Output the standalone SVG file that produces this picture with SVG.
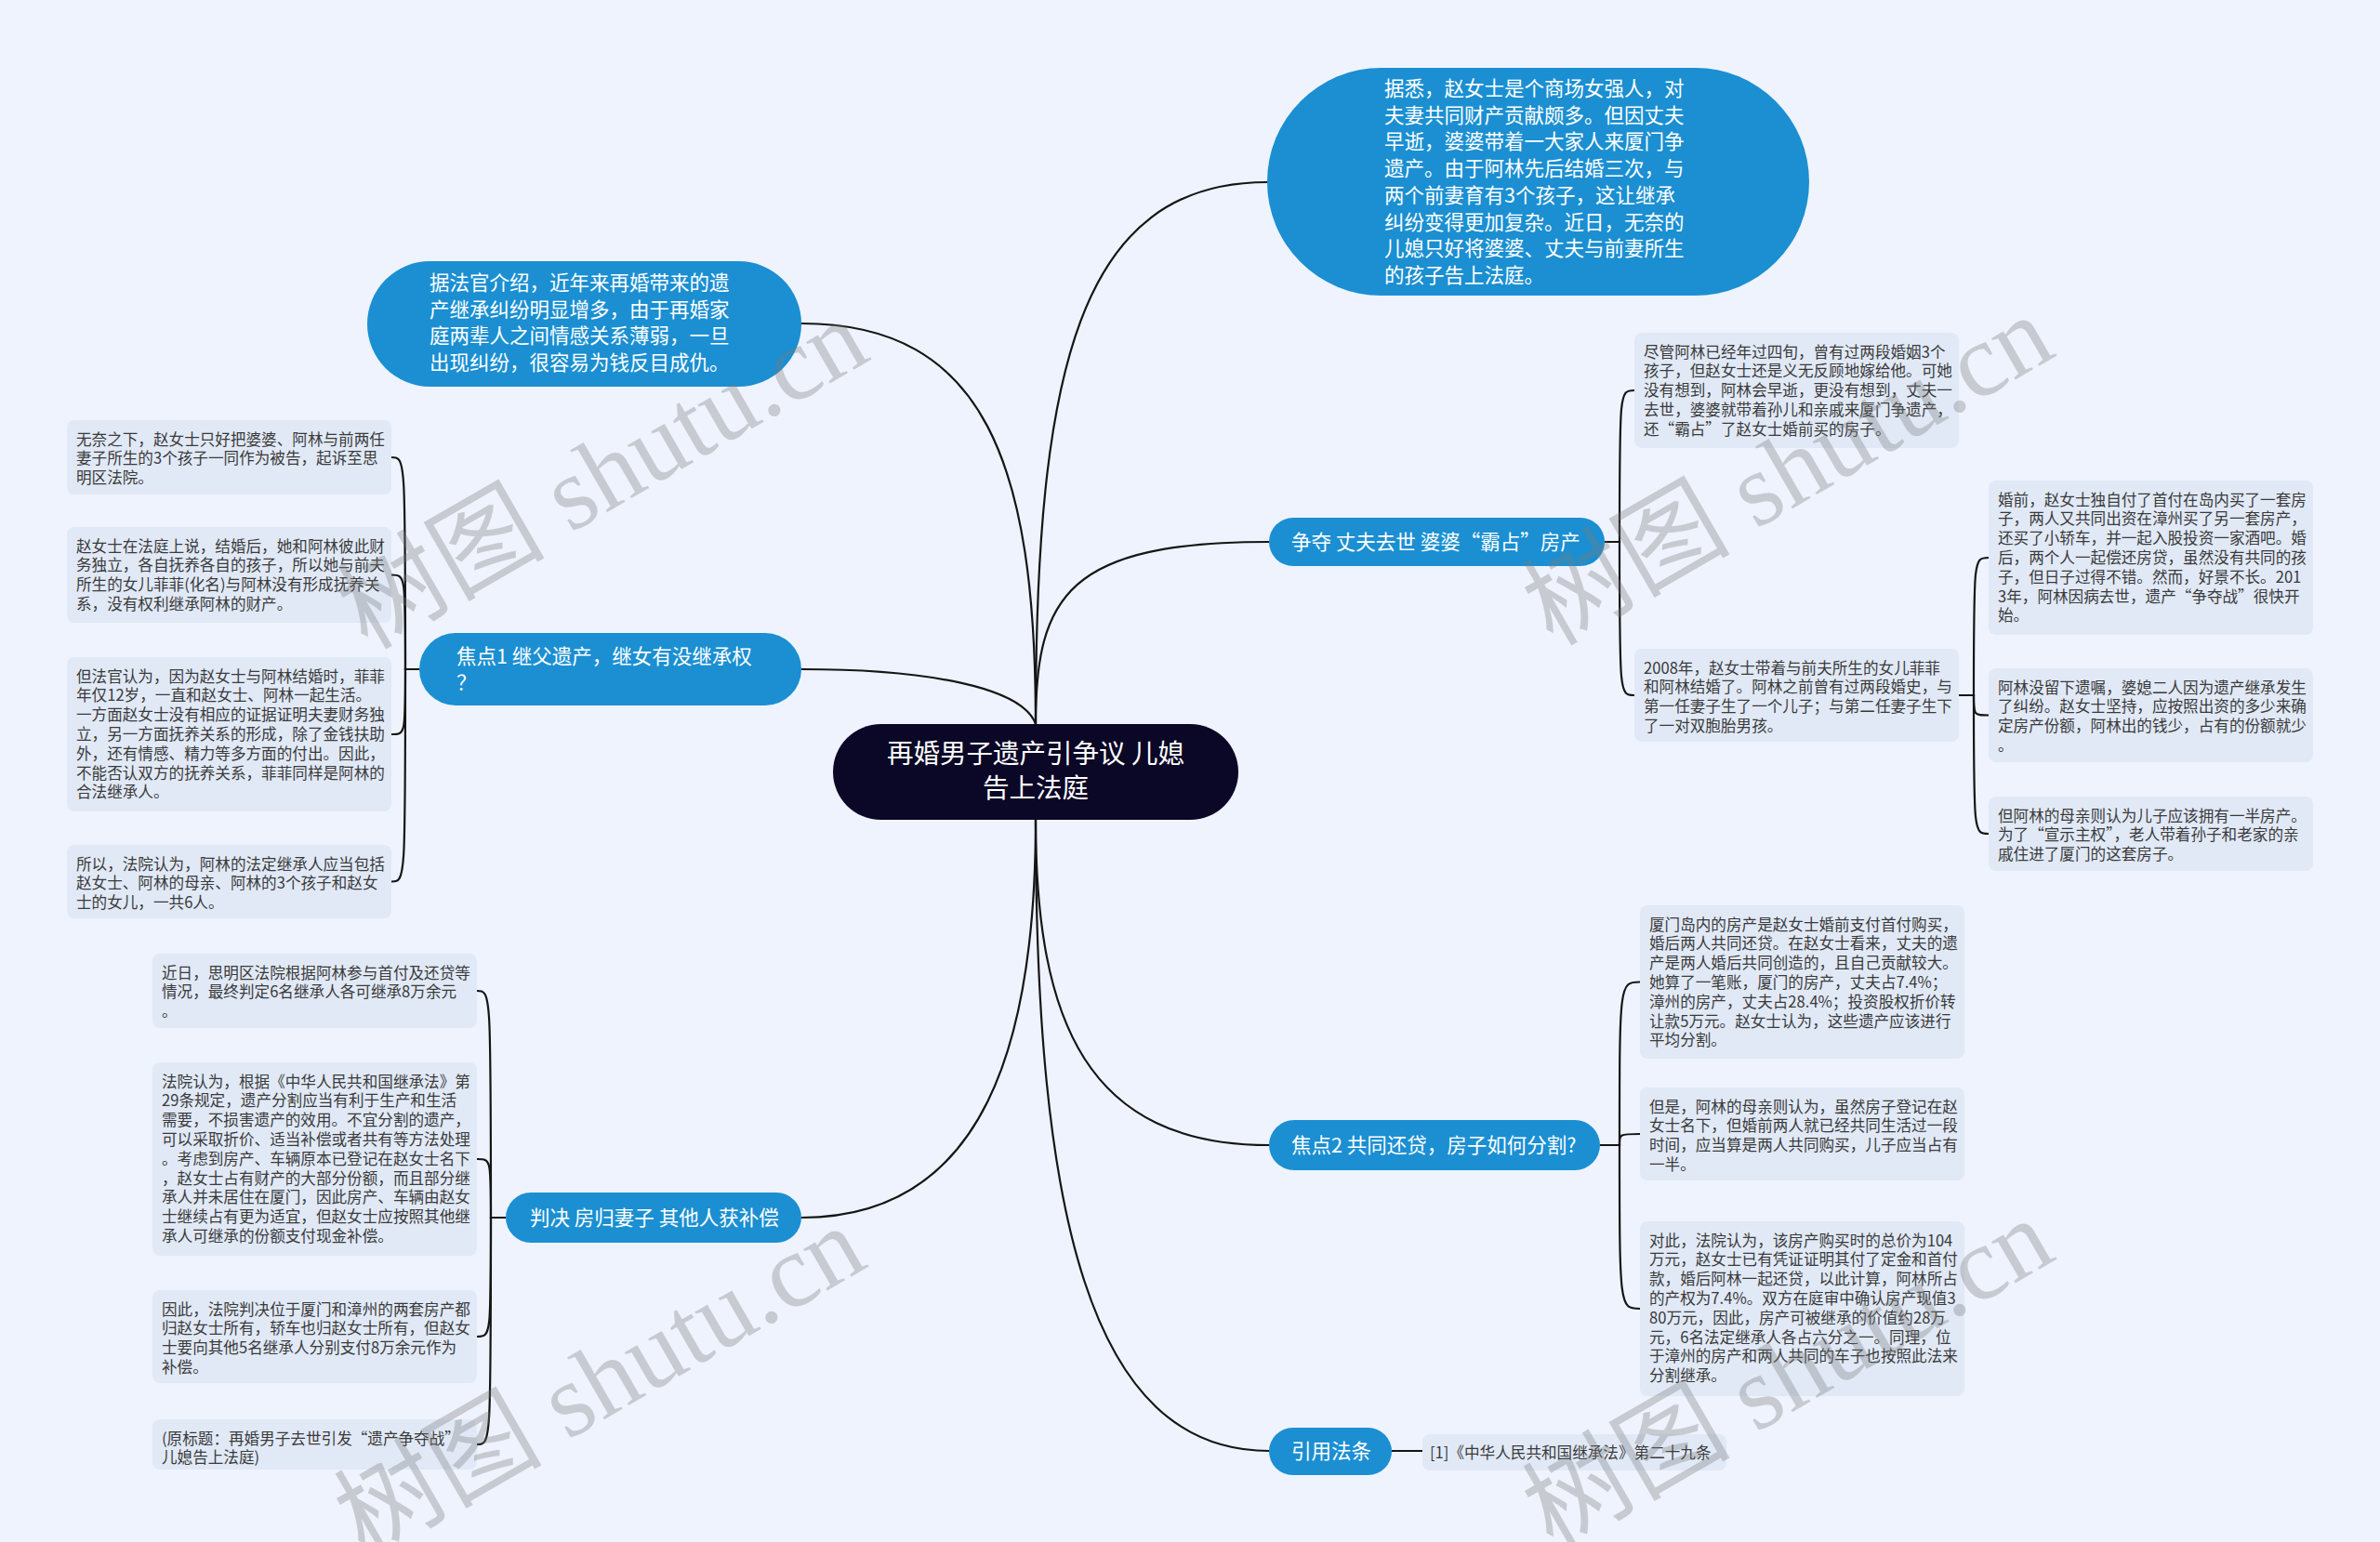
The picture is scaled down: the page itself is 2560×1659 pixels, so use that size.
<svg xmlns="http://www.w3.org/2000/svg" width="2560" height="1659" viewBox="0 0 2560 1659">
<style>
.bg{fill:#eef3fd}
.blue{fill:#1b8fd2}
.dark{fill:#0b0727}
.leaf{fill:#e1e9f7}
.wt{font-family:"Noto Sans CJK SC","Noto Sans",sans-serif;fill:#ffffff;font-size:21.5px}
.ct{font-family:"Noto Sans CJK SC","Noto Sans",sans-serif;fill:#ffffff;font-size:28.5px}
.lt{font-family:"Noto Sans CJK SC","Noto Sans",sans-serif;fill:#3a3a3a;font-size:16.6px}
.conn path{fill:none;stroke:#151515;stroke-width:2.2}
.wm{font-family:"Liberation Serif","Noto Sans CJK SC",serif;font-size:112px;fill:#7a7a7a;opacity:0.33}
</style>
<rect class="bg" x="0" y="0" width="2560" height="1659"/>

<g id="connectors" class="conn">
<path d="M1114,779 C1114,400 1160,196 1363,196"/>
<path d="M1114,779 C1114,640 1150,583 1365,583"/>
<path d="M1114,779 C1114,500 1060,348 862,348"/>
<path d="M1114,779 C1100,740 1000,720 862,720"/>
<path d="M1114,882 C1114,1100 1170,1232 1365,1232"/>
<path d="M1114,882 C1114,1300 1170,1561 1365,1561"/>
<path d="M1114,882 C1114,1120 1060,1310 862,1310"/>
<path d="M1726,583 H1742 C1742,420 1742,420 1758,420"/>
<path d="M1726,583 H1742 C1742,748 1742,748 1758,748"/>
<path d="M2107,748 H2123 C2123,600 2123,600 2139,600"/>
<path d="M2107,748 H2123 C2123,769.5 2123,769.5 2139,769.5"/>
<path d="M2107,748 H2123 C2123,897 2123,897 2139,897"/>
<path d="M1721,1232 H1742 C1742,1056.5 1742,1056.5 1764,1056.5"/>
<path d="M1721,1232 H1742 C1742,1220 1742,1220 1764,1220"/>
<path d="M1721,1232 H1742 C1742,1408 1742,1408 1764,1408"/>
<path d="M1497,1561 H1530"/>
<path d="M451,720 H436 C436,492 436,492 421,492"/>
<path d="M451,720 H436 C436,618.5 436,618.5 421,618.5"/>
<path d="M451,720 H436 C436,790 436,790 421,790"/>
<path d="M451,720 H436 C436,948.5 436,948.5 421,948.5"/>
<path d="M544,1310 H528 C528,1066 528,1066 513,1066"/>
<path d="M544,1310 H528 C528,1247 528,1247 513,1247"/>
<path d="M544,1310 H528 C528,1438 528,1438 513,1438"/>
<path d="M544,1310 H528 C528,1554 528,1554 513,1554"/>
</g>

<g id="center">
<rect class="dark" x="896" y="779" width="436" height="103" rx="51.5"/>
<text class="ct" text-anchor="middle"><tspan x="1114" y="821">再婚男子遗产引争议 儿媳</tspan><tspan x="1114" y="858">告上法庭</tspan></text>
</g>

<g id="bubble-right">
<rect class="blue" x="1363" y="73" width="583" height="245" rx="122.5"/>
<text class="wt"><tspan x="1489" y="103">据悉，赵女士是个商场女强人，对</tspan><tspan x="1489" y="131.7">夫妻共同财产贡献颇多。但因丈夫</tspan><tspan x="1489" y="160.4">早逝，婆婆带着一大家人来厦门争</tspan><tspan x="1489" y="189.1">遗产。由于阿林先后结婚三次，与</tspan><tspan x="1489" y="217.8">两个前妻育有3个孩子，这让继承</tspan><tspan x="1489" y="246.5">纠纷变得更加复杂。近日，无奈的</tspan><tspan x="1489" y="275.2">儿媳只好将婆婆、丈夫与前妻所生</tspan><tspan x="1489" y="303.9">的孩子告上法庭。</tspan></text>
</g>

<g id="bubble-left">
<rect class="blue" x="395" y="281" width="467" height="135" rx="67.5"/>
<text class="wt"><tspan x="462" y="312">据法官介绍，近年来再婚带来的遗</tspan><tspan x="462" y="340.7">产继承纠纷明显增多，由于再婚家</tspan><tspan x="462" y="369.4">庭两辈人之间情感关系薄弱，一旦</tspan><tspan x="462" y="398.1">出现纠纷，很容易为钱反目成仇。</tspan></text>
</g>

<g id="n-zhengduo">
<rect class="blue" x="1365" y="557" width="361" height="52" rx="26"/>
<text class="wt" x="1389" y="591">争夺 丈夫去世 婆婆“霸占”房产</text>
</g>

<g id="n-jiaodian1">
<rect class="blue" x="451" y="681" width="411" height="78" rx="39"/>
<text class="wt"><tspan x="491" y="714">焦点1 继父遗产，继女有没继承权</tspan><tspan x="491" y="742">？</tspan></text>
</g>

<g id="n-jiaodian2">
<rect class="blue" x="1365" y="1205" width="356" height="54" rx="27"/>
<text class="wt" x="1389" y="1240">焦点2 共同还贷，房子如何分割?</text>
</g>

<g id="n-panjue">
<rect class="blue" x="544" y="1283" width="318" height="54" rx="27"/>
<text class="wt" x="570" y="1318">判决 房归妻子 其他人获补偿</text>
</g>

<g id="n-fatiao">
<rect class="blue" x="1365" y="1536" width="132" height="51" rx="25.5"/>
<text class="wt" x="1389" y="1569">引用法条</text>
</g>

<g id="leaf-L1">
<rect class="leaf" x="72" y="452" width="349" height="80" rx="8"/>
<text class="lt"><tspan x="82" y="478.5">无奈之下，赵女士只好把婆婆、阿林与前两任</tspan><tspan x="82" y="499.3">妻子所生的3个孩子一同作为被告，起诉至思</tspan><tspan x="82" y="520.1">明区法院。</tspan></text>
</g>
<g id="leaf-L2">
<rect class="leaf" x="72" y="567" width="349" height="103" rx="8"/>
<text class="lt"><tspan x="82" y="593.5">赵女士在法庭上说，结婚后，她和阿林彼此财</tspan><tspan x="82" y="614.3">务独立，各自抚养各自的孩子，所以她与前夫</tspan><tspan x="82" y="635.1">所生的女儿菲菲(化名)与阿林没有形成抚养关</tspan><tspan x="82" y="655.9">系，没有权利继承阿林的财产。</tspan></text>
</g>
<g id="leaf-L3">
<rect class="leaf" x="72" y="707" width="349" height="166" rx="8"/>
<text class="lt"><tspan x="82" y="733.5">但法官认为，因为赵女士与阿林结婚时，菲菲</tspan><tspan x="82" y="754.3">年仅12岁，一直和赵女士、阿林一起生活。</tspan><tspan x="82" y="775.1">一方面赵女士没有相应的证据证明夫妻财务独</tspan><tspan x="82" y="795.9">立，另一方面抚养关系的形成，除了金钱扶助</tspan><tspan x="82" y="816.7">外，还有情感、精力等多方面的付出。因此，</tspan><tspan x="82" y="837.5">不能否认双方的抚养关系，菲菲同样是阿林的</tspan><tspan x="82" y="858.3">合法继承人。</tspan></text>
</g>
<g id="leaf-L4">
<rect class="leaf" x="72" y="909" width="349" height="79" rx="8"/>
<text class="lt"><tspan x="82" y="935.5">所以，法院认为，阿林的法定继承人应当包括</tspan><tspan x="82" y="956.3">赵女士、阿林的母亲、阿林的3个孩子和赵女</tspan><tspan x="82" y="977.1">士的女儿，一共6人。</tspan></text>
</g>

<g id="leaf-R1">
<rect class="leaf" x="1758" y="358" width="349" height="124" rx="8"/>
<text class="lt"><tspan x="1768" y="384.5">尽管阿林已经年过四旬，曾有过两段婚姻3个</tspan><tspan x="1768" y="405.3">孩子，但赵女士还是义无反顾地嫁给他。可她</tspan><tspan x="1768" y="426.1">没有想到，阿林会早逝，更没有想到，丈夫一</tspan><tspan x="1768" y="446.9">去世，婆婆就带着孙儿和亲戚来厦门争遗产，</tspan><tspan x="1768" y="467.7">还“霸占”了赵女士婚前买的房子。</tspan></text>
</g>
<g id="leaf-R2">
<rect class="leaf" x="1758" y="698" width="349" height="100" rx="8"/>
<text class="lt"><tspan x="1768" y="724.5">2008年，赵女士带着与前夫所生的女儿菲菲</tspan><tspan x="1768" y="745.3">和阿林结婚了。阿林之前曾有过两段婚史，与</tspan><tspan x="1768" y="766.1">第一任妻子生了一个儿子；与第二任妻子生下</tspan><tspan x="1768" y="786.9">了一对双胞胎男孩。</tspan></text>
</g>
<g id="leaf-S1">
<rect class="leaf" x="2139" y="517" width="349" height="166" rx="8"/>
<text class="lt"><tspan x="2149" y="543.5">婚前，赵女士独自付了首付在岛内买了一套房</tspan><tspan x="2149" y="564.3">子，两人又共同出资在漳州买了另一套房产，</tspan><tspan x="2149" y="585.1">还买了小轿车，并一起入股投资一家酒吧。婚</tspan><tspan x="2149" y="605.9">后，两个人一起偿还房贷，虽然没有共同的孩</tspan><tspan x="2149" y="626.7">子，但日子过得不错。然而，好景不长。201</tspan><tspan x="2149" y="647.5">3年，阿林因病去世，遗产“争夺战”很快开</tspan><tspan x="2149" y="668.3">始。</tspan></text>
</g>
<g id="leaf-S2">
<rect class="leaf" x="2139" y="719" width="349" height="101" rx="8"/>
<text class="lt"><tspan x="2149" y="745.5">阿林没留下遗嘱，婆媳二人因为遗产继承发生</tspan><tspan x="2149" y="766.3">了纠纷。赵女士坚持，应按照出资的多少来确</tspan><tspan x="2149" y="787.1">定房产份额，阿林出的钱少，占有的份额就少</tspan><tspan x="2149" y="807.9">。</tspan></text>
</g>
<g id="leaf-S3">
<rect class="leaf" x="2139" y="857" width="349" height="80" rx="8"/>
<text class="lt"><tspan x="2149" y="883.5">但阿林的母亲则认为儿子应该拥有一半房产。</tspan><tspan x="2149" y="904.3">为了“宣示主权”，老人带着孙子和老家的亲</tspan><tspan x="2149" y="925.1">戚住进了厦门的这套房子。</tspan></text>
</g>

<g id="leaf-F1">
<rect class="leaf" x="1764" y="974" width="349" height="165" rx="8"/>
<text class="lt"><tspan x="1774" y="1000.5">厦门岛内的房产是赵女士婚前支付首付购买，</tspan><tspan x="1774" y="1021.3">婚后两人共同还贷。在赵女士看来，丈夫的遗</tspan><tspan x="1774" y="1042.1">产是两人婚后共同创造的，且自己贡献较大。</tspan><tspan x="1774" y="1062.9">她算了一笔账，厦门的房产，丈夫占7.4%；</tspan><tspan x="1774" y="1083.7">漳州的房产，丈夫占28.4%；投资股权折价转</tspan><tspan x="1774" y="1104.5">让款5万元。赵女士认为，这些遗产应该进行</tspan><tspan x="1774" y="1125.3">平均分割。</tspan></text>
</g>
<g id="leaf-F2">
<rect class="leaf" x="1764" y="1170" width="349" height="100" rx="8"/>
<text class="lt"><tspan x="1774" y="1196.5">但是，阿林的母亲则认为，虽然房子登记在赵</tspan><tspan x="1774" y="1217.3">女士名下，但婚前两人就已经共同生活过一段</tspan><tspan x="1774" y="1238.1">时间，应当算是两人共同购买，儿子应当占有</tspan><tspan x="1774" y="1258.9">一半。</tspan></text>
</g>
<g id="leaf-F3">
<rect class="leaf" x="1764" y="1314" width="349" height="188" rx="8"/>
<text class="lt"><tspan x="1774" y="1340.5">对此，法院认为，该房产购买时的总价为104</tspan><tspan x="1774" y="1361.3">万元，赵女士已有凭证证明其付了定金和首付</tspan><tspan x="1774" y="1382.1">款，婚后阿林一起还贷，以此计算，阿林所占</tspan><tspan x="1774" y="1402.9">的产权为7.4%。双方在庭审中确认房产现值3</tspan><tspan x="1774" y="1423.7">80万元，因此，房产可被继承的价值约28万</tspan><tspan x="1774" y="1444.5">元，6名法定继承人各占六分之一。同理，位</tspan><tspan x="1774" y="1465.3">于漳州的房产和两人共同的车子也按照此法来</tspan><tspan x="1774" y="1486.1">分割继承。</tspan></text>
</g>

<g id="leaf-cite">
<rect class="leaf" x="1530" y="1543" width="327" height="39" rx="8"/>
<text class="lt" x="1538" y="1569">[1]《中华人民共和国继承法》第二十九条</text>
</g>

<g id="leaf-J1">
<rect class="leaf" x="164" y="1026" width="349" height="80" rx="8"/>
<text class="lt"><tspan x="174" y="1052.5">近日，思明区法院根据阿林参与首付及还贷等</tspan><tspan x="174" y="1073.3">情况，最终判定6名继承人各可继承8万余元</tspan><tspan x="174" y="1094.1">。</tspan></text>
</g>
<g id="leaf-J2">
<rect class="leaf" x="164" y="1143" width="349" height="208" rx="8"/>
<text class="lt"><tspan x="174" y="1169.5">法院认为，根据《中华人民共和国继承法》第</tspan><tspan x="174" y="1190.3">29条规定，遗产分割应当有利于生产和生活</tspan><tspan x="174" y="1211.1">需要，不损害遗产的效用。不宜分割的遗产，</tspan><tspan x="174" y="1231.9">可以采取折价、适当补偿或者共有等方法处理</tspan><tspan x="174" y="1252.7">。考虑到房产、车辆原本已登记在赵女士名下</tspan><tspan x="174" y="1273.5">，赵女士占有财产的大部分份额，而且部分继</tspan><tspan x="174" y="1294.3">承人并未居住在厦门，因此房产、车辆由赵女</tspan><tspan x="174" y="1315.1">士继续占有更为适宜，但赵女士应按照其他继</tspan><tspan x="174" y="1335.9">承人可继承的份额支付现金补偿。</tspan></text>
</g>
<g id="leaf-J3">
<rect class="leaf" x="164" y="1388" width="349" height="100" rx="8"/>
<text class="lt"><tspan x="174" y="1414.5">因此，法院判决位于厦门和漳州的两套房产都</tspan><tspan x="174" y="1435.3">归赵女士所有，轿车也归赵女士所有，但赵女</tspan><tspan x="174" y="1456.1">士要向其他5名继承人分别支付8万余元作为</tspan><tspan x="174" y="1476.9">补偿。</tspan></text>
</g>
<g id="leaf-J4">
<rect class="leaf" x="164" y="1527" width="349" height="54" rx="8"/>
<text class="lt"><tspan x="174" y="1553.5">(原标题：再婚男子去世引发“遗产争夺战”</tspan><tspan x="174" y="1574.3">儿媳告上法庭)</tspan></text>
</g>

<g id="watermarks">
<text class="wm" text-anchor="middle" transform="translate(648,510) rotate(-30)" x="0" y="38">树图 shutu.cn</text>
<text class="wm" text-anchor="middle" transform="translate(1923,506) rotate(-30)" x="0" y="38">树图 shutu.cn</text>
<text class="wm" text-anchor="middle" transform="translate(645,1486) rotate(-30)" x="0" y="38">树图 shutu.cn</text>
<text class="wm" text-anchor="middle" transform="translate(1923,1478) rotate(-30)" x="0" y="38">树图 shutu.cn</text>
</g>
</svg>
